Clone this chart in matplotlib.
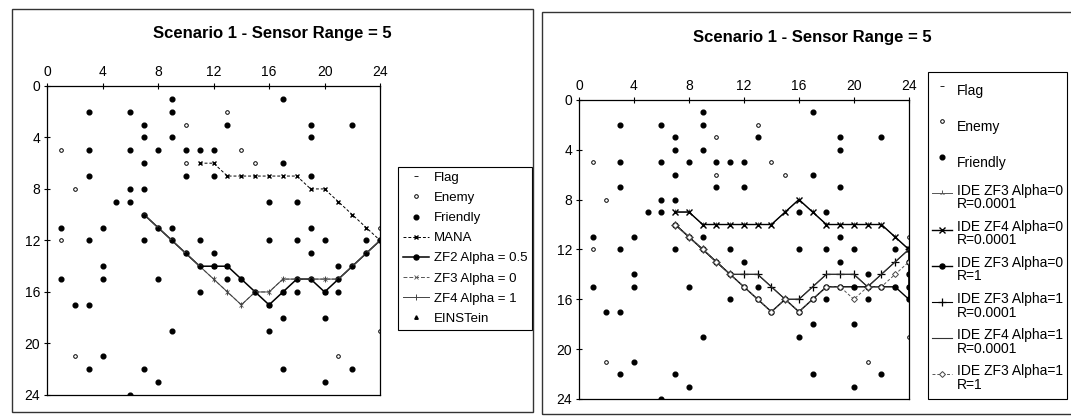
import numpy as np
import matplotlib
matplotlib.use("Agg")
import matplotlib.pyplot as plt
from matplotlib.patches import Rectangle

plt.rcParams['font.family'] = ['Liberation Sans', 'DejaVu Sans']

# posisi awal (sama untuk kedua grafik)
friendly_x = [9, 17, 3, 6, 9, 7, 13, 19, 22, 7, 9, 19, 3, 6, 8, 10, 11, 12, 7, 17, 3, 10, 12, 19,
              6, 7, 5, 6, 16, 18, 1, 4, 9, 19, 3, 7, 11, 16, 18, 20, 23, 12, 19, 4, 21,
              1, 4, 8, 13, 11, 18, 21, 2, 3, 17, 20, 9, 16, 4, 3, 7, 17, 22, 8, 20, 6]
friendly_y = [1, 1, 2, 2, 2, 3, 3, 3, 3, 4, 4, 4, 5, 5, 5, 5, 5, 5, 6, 6, 7, 7, 7, 7,
              8, 8, 9, 9, 9, 9, 11, 11, 11, 11, 12, 12, 12, 12, 12, 12, 12, 13, 13, 14, 14,
              15, 15, 15, 15, 16, 16, 16, 17, 17, 18, 18, 19, 19, 21, 22, 22, 22, 22, 23, 23, 24]
enemy_x = [13, 10, 1, 14, 10, 15, 2, 1, 2, 21, 24, 24]
enemy_y = [2, 3, 5, 5, 6, 6, 8, 12, 21, 21, 11, 19]
flag_x = [24]
flag_y = [12]

# grafik kiri
mana_x = [11, 12, 13, 14, 15, 16, 17, 18, 19, 20, 21, 22, 23, 24]
mana_y = [6, 6, 7, 7, 7, 7, 7, 7, 8, 8, 9, 10, 11, 12]
zf2_x = [7, 8, 9, 10, 11, 12, 13, 14, 15, 16, 17, 18, 19, 20, 21, 22, 23, 24]
zf2_y = [10, 11, 12, 13, 14, 14, 14, 15, 16, 17, 16, 15, 15, 16, 15, 14, 13, 12]
zf3_x = [7, 8, 9, 10, 11, 12, 13, 14, 15, 16, 17, 18, 19, 20, 21, 22, 23, 24]
zf3_y = [10, 11, 12, 13, 14, 15, 16, 17, 16, 16, 15, 15, 15, 15, 15, 14, 13, 12]
zf4_x = [7, 8, 9, 10, 11, 12, 13, 14, 15, 16, 17, 18, 19, 20, 21, 22, 23, 24]
zf4_y = [10, 11, 12, 13, 14, 15, 16, 17, 16, 16, 15, 15, 15, 15, 15, 14, 13, 12]
ein_x = [7, 8, 9, 10, 11, 12, 13, 14, 15, 16, 17, 18, 19, 20, 21, 22, 23, 24]
ein_y = [10, 11, 12, 13, 14, 14, 14, 15, 16, 17, 16, 15, 15, 16, 15, 14, 13, 12]

# grafik kanan
ide_up_x = [7, 8, 9, 10, 11, 12, 13, 14, 15, 16, 17, 18, 19, 20, 21, 22, 23, 24]
ide_up_y = [9, 9, 10, 10, 10, 10, 10, 10, 9, 8, 9, 10, 10, 10, 10, 10, 11, 12]
ide_plus_x = [7, 8, 9, 10, 11, 12, 13, 14, 15, 16, 17, 18, 19, 20, 21, 22, 23, 24]
ide_plus_y = [10, 11, 12, 13, 14, 14, 14, 15, 16, 16, 15, 14, 14, 14, 15, 14, 13, 12]
ide_fill_x = [7, 8, 9, 10, 11, 12, 13, 14, 15, 16, 17, 18, 19, 20, 21, 22, 23, 24, 24, 24, 24, 24]
ide_fill_y = [10, 11, 12, 13, 14, 15, 16, 17, 16, 17, 16, 15, 15, 15, 15, 15, 15, 16, 15, 14, 13, 12]
ide_open_x = [7, 8, 9, 10, 11, 12, 13, 14, 15, 16, 17, 18, 19, 20, 21, 22, 23, 24]
ide_open_y = [10, 11, 12, 13, 14, 15, 16, 17, 16, 17, 16, 15, 15, 16, 15, 15, 14, 13]

ticks = [0, 4, 8, 12, 16, 20, 24]
title = 'Scenario 1 - Sensor Range = 5'

fig = plt.figure(figsize=(10.71, 4.16), dpi=100)

# bingkai chart
fig.patches.append(Rectangle((0.0112, 0.0096), 0.4865, 0.9688, transform=fig.transFigure,
                             fill=False, lw=1, ec='#333333'))
fig.patches.append(Rectangle((0.506, 0.0048), 0.52, 0.966, transform=fig.transFigure,
                             fill=False, lw=1, ec='#333333'))


def setup(ax):
    ax.set_xlim(0, 24)
    ax.set_ylim(24, 0)
    ax.xaxis.tick_top()
    ax.set_xticks(ticks)
    ax.set_yticks(ticks)
    ax.tick_params(direction='inout', length=4, width=0.8, labelsize=10, pad=3)
    for s in ax.spines.values():
        s.set_linewidth(0.9)


def points(ax):
    ax.plot(flag_x, flag_y, ls='none', marker='_', ms=3, mew=0.6, color='k', label='Flag')
    ax.plot(enemy_x, enemy_y, ls='none', marker='o', ms=2.6, mfc='white', mec='k', mew=0.7,
            label='Enemy')
    ax.plot(friendly_x, friendly_y, ls='none', marker='o', ms=3.4, color='k', label='Friendly')


# kiri
ax1 = fig.add_axes([0.0439, 0.0505, 0.311, 0.743])
setup(ax1)
points(ax1)
ax1.plot(mana_x, mana_y, color='k', lw=0.7, ls=(0, (3, 2)), marker='x', ms=3.5, mew=1, label='MANA')
ax1.plot(zf2_x, zf2_y, color='k', lw=1.1, marker='o', ms=3.6, label='ZF2 Alpha = 0.5')
ax1.plot(zf3_x, zf3_y, color='#555555', lw=0.7, ls=(0, (4, 2)), marker='x', ms=2.5, mew=0.6,
         label='ZF3 Alpha = 0')
ax1.plot(zf4_x, zf4_y, color='#444444', lw=0.7, marker='|', ms=4, mew=0.7, label='ZF4 Alpha = 1')
ax1.plot(ein_x, ein_y, color='k', lw=0, marker='^', ms=2.5, label='EINSTein')
fig.text(0.254, 0.92, title, ha='center', va='center', fontsize=12, fontweight='bold')
leg1 = ax1.legend(loc='upper left', bbox_to_anchor=(0.3716, 0.5986), bbox_transform=fig.transFigure,
                  fontsize=9.5, frameon=True, fancybox=False, framealpha=1, edgecolor='k',
                  borderpad=0.35, labelspacing=0.6, handlelength=2.0, handletextpad=0.4,
                  borderaxespad=0)
leg1.get_frame().set_linewidth(0.8)

# kanan
ax2 = fig.add_axes([0.5406, 0.0409, 0.308, 0.719])
setup(ax2)
points(ax2)
ax2.plot(ide_up_x, ide_up_y, color='#555555', lw=0.7, marker='2', ms=4, mew=0.7,
         label='IDE ZF3 Alpha=0\nR=0.0001')
ax2.plot(ide_up_x, ide_up_y, color='k', lw=1, marker='x', ms=4, mew=1,
         label='IDE ZF4 Alpha=0\nR=0.0001')
ax2.plot(ide_fill_x, ide_fill_y, color='k', lw=1, marker='o', ms=3.6,
         label='IDE ZF3 Alpha=0\nR=1')
ax2.plot(ide_plus_x, ide_plus_y, color='k', lw=0.8, marker='+', ms=6, mew=0.9,
         label='IDE ZF3 Alpha=1\nR=0.0001')
ax2.plot(ide_plus_x, ide_plus_y, color='#333333', lw=0.8, label='IDE ZF4 Alpha=1\nR=0.0001')
ax2.plot(ide_open_x, ide_open_y, color='#555555', lw=0.7, ls=(0, (3, 2)), marker='D', ms=3,
         mfc='white', mec='#444444', mew=0.7, label='IDE ZF3 Alpha=1\nR=1')
fig.text(0.758, 0.91, title, ha='center', va='center', fontsize=12, fontweight='bold')
leg2 = ax2.legend(loc='upper left', bbox_to_anchor=(0.8665, 0.827), bbox_transform=fig.transFigure,
                  fontsize=10, frameon=True, fancybox=False, framealpha=1, edgecolor='k',
                  borderpad=0.3, labelspacing=0.45, handlelength=1.4, handletextpad=0.4,
                  handleheight=2.9, borderaxespad=0)
leg2.get_frame().set_linewidth(0.8)
for t in leg2.get_texts():
    t.set_linespacing(0.95)

fig.savefig('out.png', dpi=100)
